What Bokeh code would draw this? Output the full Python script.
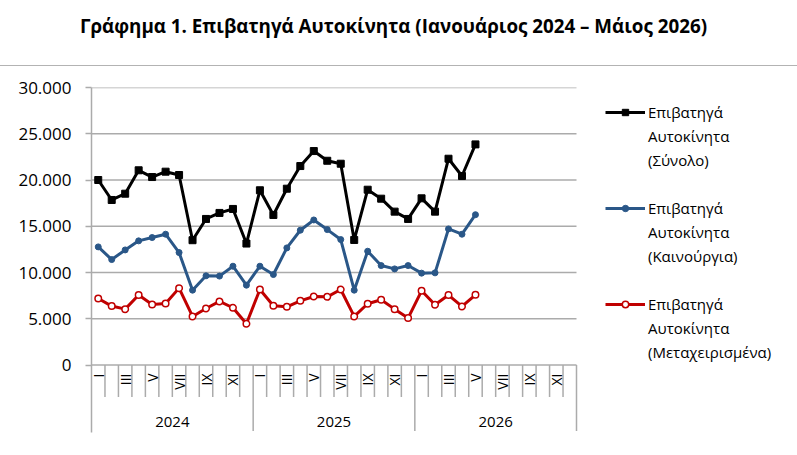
import math
from bokeh.plotting import figure
from bokeh.models import (ColumnDataSource, Range1d, FixedTicker, Legend, LegendItem,
                          Div, CustomJSTickFormatter)
from bokeh.layouts import column
from bokeh.core.properties import value
from bokeh.embed import file_html
from bokeh.resources import INLINE

years = ["2024", "2025", "2026"]
months = ["I", "II", "III", "IV", "V", "VI", "VII", "VIII", "IX", "X", "XI", "XII"]
total = [20000, 17840, 18520, 21050, 20320, 20900, 20540, 13490, 15790, 16440, 16870, 13130,
         18890, 16220, 19060, 21510, 23130, 22080, 21760, 13520, 18950, 17980, 16580, 15790,
         18020, 16580, 22300, 20430, 23850]
new_cars = [12770, 11400, 12440, 13420, 13780, 14140, 12160, 8090, 9640, 9610, 10680, 8630,
            10680, 9780, 12660, 14570, 15680, 14640, 13560, 8090, 12300, 10750, 10390, 10750,
            9930, 9960, 14710, 14140, 16250]
used_cars = [7190, 6370, 6040, 7560, 6540, 6650, 8310, 5250, 6110, 6870, 6190, 4460,
             8160, 6400, 6290, 6940, 7410, 7370, 8160, 5250, 6620, 7050, 6040, 5070,
             8020, 6510, 7560, 6330, 7590]
y_ticks = [0, 5000, 10000, 15000, 20000, 25000, 30000]
series_lines = [["Επιβατηγά", "Αυτοκίνητα", "(Σύνολο)"],
                ["Επιβατηγά", "Αυτοκίνητα", "(Καινούργια)"],
                ["Επιβατηγά", "Αυτοκίνητα", "(Μεταχειρισμένα)"]]
title_text = "Γράφημα 1. Επιβατηγά Αυτοκίνητα (Ιανουάριος 2024 – Μάιος 2026)"

FONT = "Open Sans"
GRID = "#ABABAB"
n_slots = len(years) * len(months)
FRAME_L, SLOTS_R, FRAME_R = 91, 576, 797
slot_px = (SLOTS_R - FRAME_L) / n_slots
x_end = (FRAME_R - FRAME_L) / slot_px
px_per_unit = 277.5 / 30000.0  # pixel per value unit
def px_to_val(px):
    return -px / px_per_unit

y_bottom = px_to_val(67.5)

p = figure(width=797, height=389, output_backend="svg", toolbar_location=None,
           x_range=Range1d(0, x_end), y_range=Range1d(y_bottom, 30000),
           min_border_left=FRAME_L, min_border_right=0, min_border_top=21, min_border_bottom=23)
p.outline_line_color = None
p.xaxis.visible = False
p.xgrid.visible = False
p.ygrid.visible = False
p.background_fill_color = "white"

p.yaxis.ticker = FixedTicker(ticks=y_ticks)
p.yaxis.formatter = CustomJSTickFormatter(code="return tick.toLocaleString('de-DE');")
p.yaxis.major_label_text_font = FONT
p.yaxis.major_label_text_font_size = "17px"
p.yaxis.major_label_text_color = "#000000"
p.yaxis.axis_line_color = GRID
p.yaxis.axis_line_width = 1.5
p.yaxis.major_tick_line_color = GRID
p.yaxis.major_tick_line_width = 1.5
p.yaxis.major_tick_out = 6
p.yaxis.major_tick_in = 0
p.yaxis.minor_tick_line_color = None
p.yaxis.major_label_standoff = 14

# horizontal gridlines over the category span only
p.segment(x0=[0] * len(y_ticks), y0=y_ticks, x1=[n_slots] * len(y_ticks), y1=y_ticks,
          line_color=GRID, line_width=1.5)

# month separators and year separators below the 0 line
sep_x = list(range(1, n_slots + 1))
month_sep = [x for x in sep_x if x % len(months) != 0]
year_sep = [x for x in sep_x if x % len(months) == 0]
p.segment(x0=month_sep, y0=[0] * len(month_sep), x1=month_sep,
          y1=[px_to_val(32)] * len(month_sep), line_color=GRID, line_width=1.5)
p.segment(x0=year_sep, y0=[0] * len(year_sep), x1=year_sep,
          y1=[px_to_val(66)] * len(year_sep), line_color=GRID, line_width=1.5)

# month labels (odd months)
lab_x, lab_t = [], []
for yi in range(len(years)):
    for mi, m in enumerate(months):
        if mi % 2 == 0:
            lab_x.append(yi * len(months) + mi + 0.5)
            lab_t.append(m)
p.text(x=lab_x, y=[px_to_val(8.5)] * len(lab_x), text=lab_t, angle=math.pi / 2,
       text_align="right", text_baseline="middle", text_font=value(FONT),
       text_font_size="14px", text_color="#000000")
# year labels
p.text(x=[yi * len(months) + len(months) / 2 for yi in range(len(years))],
       y=[px_to_val(57)] * len(years), text=years, text_align="center",
       text_baseline="middle", text_font=value(FONT), text_font_size="15px",
       text_color="#000000")

xs = [i + 0.5 for i in range(len(total))]
src = ColumnDataSource(dict(x=xs, total=total, new=new_cars, used=used_cars))

BLACK = "#000000"
BLUE = "#2A5788"
RED = "#C00000"
l1 = p.line("x", "total", source=src, line_color=BLACK, line_width=3)
m1 = p.scatter("x", "total", source=src, marker="square", size=7, fill_color=BLACK, line_color=BLACK)
l2 = p.line("x", "new", source=src, line_color=BLUE, line_width=3)
m2 = p.scatter("x", "new", source=src, marker="circle", size=6, fill_color=BLUE, line_color=BLUE)
l3 = p.line("x", "used", source=src, line_color=RED, line_width=3)
m3 = p.scatter("x", "used", source=src, marker="circle", size=6.5, fill_color="white",
               line_color=RED, line_width=1.5)

# invisible renderer used for continuation lines of legend labels
blank = p.line(x=[], y=[], line_alpha=0)

ITEM_H = 24
group_tops = [100, 196, 292]  # px from page top
page_frame_bottom = 432
for rends, lines, top in zip([[l1, m1], [l2, m2], [l3, m3]], series_lines, group_tops):
    items = [LegendItem(label=lines[0], renderers=rends)]
    items += [LegendItem(label=t, renderers=[blank]) for t in lines[1:]]
    lg = Legend(items=items, location=(605 - FRAME_L, page_frame_bottom - (top + ITEM_H * len(lines))),
                orientation="vertical")
    lg.glyph_width = 40
    lg.glyph_height = 16
    lg.label_height = ITEM_H
    lg.label_standoff = 3
    lg.padding = 0
    lg.margin = 0
    lg.spacing = 0
    lg.border_line_color = None
    lg.background_fill_alpha = 0
    lg.label_text_font = FONT
    lg.label_text_font_size = "15px"
    lg.label_text_color = "#000000"
    lg.click_policy = "none"
    p.add_layout(lg, "center")

title = Div(text=title_text, width=797, height=66, margin=0,
            styles={"font-family": FONT, "font-weight": "bold", "font-size": "18.8px",
                    "text-align": "center", "box-sizing": "border-box",
                    "padding-top": "13px", "padding-right": "10px",
                    "border-bottom": "1.5px solid #B3B3B3", "color": "#000000"})

layout = column(title, p, spacing=0)
open("out.html", "w").write(file_html(layout, INLINE))
